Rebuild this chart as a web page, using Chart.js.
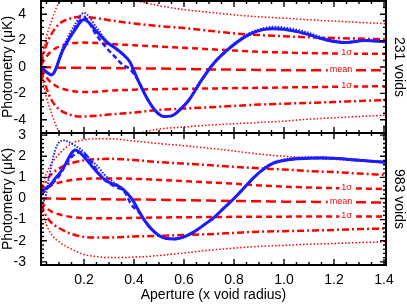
<!DOCTYPE html>
<html lang="en">
<head>
  <meta charset="UTF-8" />
  <title>Void photometry</title>
  <script src="https://cdn.jsdelivr.net/npm/chart.js@4.4.1/dist/chart.umd.min.js"></script>
  <style>
    body { margin: 0; background: #fff; }
    .wrap { position: relative; width: 407px; height: 304px; }
    .wrap canvas { position: absolute; left: 0; }
    #topChart { top: 0; }
    #botChart { top: 126px; }
  </style>
</head>
<body>
<div class="wrap">
  <canvas id="topChart" width="407" height="134"></canvas>
  <canvas id="botChart" width="407" height="178"></canvas>
</div>
<script>
// ---- axes / tick labels ----
const xMin = 0.028, xMax = 1.408;
const xTickVals = [0.2, 0.4, 0.6, 0.8, 1.0, 1.2, 1.4];
const topYTicks = [-4, -2, 0, 2, 4];
const botYTicks = [-3, -2, -1, 0, 1, 2, 3];

// ---- random-sky bands (shared aperture grid) ----
const bandX = [0.028, 0.05, 0.07, 0.1, 0.15, 0.2, 0.25, 0.3, 0.4, 0.5, 0.6, 0.7, 0.8, 0.9, 1.0, 1.1, 1.2, 1.3, 1.408];

// 231 voids
const topMean = [0, -0.02, -0.03, -0.05, -0.05, -0.06, -0.07, -0.08, -0.1, -0.12, -0.15, -0.18, -0.2, -0.22, -0.24, -0.25, -0.25, -0.25, -0.25];
const topUp1 = [0.15, 0.8, 1.2, 1.55, 1.8, 1.85, 1.82, 1.75, 1.65, 1.55, 1.45, 1.35, 1.25, 1.15, 1.1, 1.05, 1.03, 1.0, 1.0];
const topLo1 = [-0.15, -0.8, -1.2, -1.55, -1.8, -1.9, -1.88, -1.8, -1.72, -1.68, -1.65, -1.63, -1.6, -1.58, -1.55, -1.53, -1.5, -1.48, -1.45];
const topUp2 = [0.3, 1.7, 2.5, 3.25, 3.7, 3.8, 3.7, 3.55, 3.3, 3.1, 2.95, 2.75, 2.55, 2.42, 2.33, 2.25, 2.2, 2.15, 2.1];
const topLo2 = [-0.3, -1.6, -2.5, -3.2, -3.65, -3.75, -3.7, -3.6, -3.45, -3.25, -3.15, -3.05, -2.95, -2.85, -2.78, -2.72, -2.65, -2.58, -2.5];
const topUp3 = [0.3, 2.3, 3.5, 4.9, 5.7, 5.9, 5.8, 5.5, 5.05, 4.65, 4.35, 4.15, 3.95, 3.8, 3.7, 3.58, 3.48, 3.38, 3.28];
const topLo3 = [-0.3, -2.3, -3.5, -4.9, -5.8, -6.0, -5.8, -5.5, -5.1, -4.7, -4.55, -4.4, -4.3, -4.2, -4.1, -3.95, -3.85, -3.75, -3.65];

// 983 voids
const botMean = [0, 0, 0, -0.01, -0.02, -0.02, -0.03, -0.04, -0.05, -0.06, -0.08, -0.1, -0.12, -0.13, -0.15, -0.16, -0.17, -0.18, -0.2];
const botUp1 = [0.15, 0.45, 0.62, 0.75, 0.87, 0.93, 0.95, 0.95, 0.93, 0.88, 0.82, 0.76, 0.7, 0.62, 0.56, 0.52, 0.49, 0.47, 0.45];
const botLo1 = [-0.15, -0.45, -0.62, -0.75, -0.88, -0.93, -0.94, -0.94, -0.92, -0.9, -0.89, -0.88, -0.87, -0.86, -0.86, -0.85, -0.85, -0.85, -0.85];
const botUp2 = [0.3, 0.85, 1.15, 1.42, 1.68, 1.8, 1.86, 1.88, 1.82, 1.72, 1.65, 1.58, 1.5, 1.43, 1.37, 1.3, 1.25, 1.18, 1.12];
const botLo2 = [-0.3, -0.85, -1.15, -1.4, -1.68, -1.82, -1.85, -1.85, -1.8, -1.77, -1.73, -1.69, -1.63, -1.57, -1.55, -1.52, -1.49, -1.45, -1.42];
const botUp3 = [0.45, 1.2, 1.65, 2.1, 2.6, 2.78, 2.83, 2.83, 2.72, 2.6, 2.5, 2.38, 2.25, 2.1, 2.0, 1.92, 1.85, 1.78, 1.72];
const botLo3 = [-0.45, -1.25, -1.7, -2.05, -2.4, -2.65, -2.75, -2.8, -2.78, -2.7, -2.58, -2.45, -2.35, -2.27, -2.22, -2.17, -2.13, -2.09, -2.05];

// ---- measured photometry ----
const topObsX = [0.028, 0.045, 0.07, 0.116, 0.163, 0.2, 0.25, 0.29, 0.32, 0.356, 0.383, 0.416, 0.456, 0.49, 0.52, 0.55, 0.58, 0.62, 0.67, 0.72, 0.79, 0.86, 0.92, 0.96, 1.0, 1.08, 1.17, 1.25, 1.32, 1.408];
const topSolid = [0.0, -0.3, -0.6, 1.3, 2.8, 3.6, 2.7, 1.9, 1.5, 0.95, 0.4, -1.0, -2.5, -3.4, -3.75, -3.7, -3.3, -2.5, -1.0, 0.3, 1.55, 2.45, 2.85, 2.9, 2.85, 2.55, 2.05, 1.85, 2.0, 1.92];
const topDash = [0.0, -0.3, -0.6, 1.3, 2.9, 3.75, 2.4, 1.45, 0.85, 0.15, -0.15, -1.0, -2.5, -3.4, -3.75, -3.7, -3.3, -2.5, -1.0, 0.3, 1.55, 2.45, 2.85, 2.9, 2.85, 2.55, 2.05, 1.85, 2.0, 1.92];
const topDot = [0.0, -0.3, -0.55, 1.5, 3.2, 4.1, 3.0, 2.0, 1.55, 1.0, 0.4, -1.0, -2.5, -3.4, -3.75, -3.7, -3.3, -2.5, -1.0, 0.3, 1.6, 2.55, 2.95, 3.05, 3.0, 2.7, 2.15, 1.9, 2.0, 1.95];

const botObsX = [0.028, 0.044, 0.064, 0.085, 0.1, 0.12, 0.15, 0.165, 0.19, 0.23, 0.26, 0.28, 0.31, 0.336, 0.36, 0.39, 0.42, 0.44, 0.47, 0.5, 0.53, 0.56, 0.6, 0.64, 0.68, 0.72, 0.76, 0.8, 0.84, 0.88, 0.92, 0.96, 1.0, 1.05, 1.1, 1.15, 1.2, 1.25, 1.3, 1.35, 1.408];
const botSolid = [0.2, 0.45, 0.62, 0.95, 1.15, 1.5, 2.15, 2.3, 2.1, 1.55, 1.15, 0.93, 0.7, 0.6, 0.4, 0.0, -0.6, -1.0, -1.45, -1.75, -1.9, -1.92, -1.82, -1.58, -1.25, -0.9, -0.45, 0.0, 0.5, 1.0, 1.4, 1.68, 1.8, 1.88, 1.91, 1.92, 1.9, 1.86, 1.81, 1.76, 1.72];
const botDash = [0.15, 0.4, 0.6, 0.85, 1.05, 1.45, 1.95, 2.1, 2.2, 1.7, 1.2, 0.9, 0.65, 0.5, 0.35, -0.3, -0.65, -1.0, -1.45, -1.75, -1.9, -1.92, -1.82, -1.58, -1.25, -0.9, -0.45, 0.0, 0.5, 1.0, 1.4, 1.68, 1.8, 1.88, 1.91, 1.92, 1.9, 1.86, 1.81, 1.76, 1.72];
const botDot = [-0.2, 0.0, 1.25, 2.3, 2.65, 2.75, 2.6, 2.5, 2.3, 1.8, 1.45, 1.15, 0.85, 0.62, 0.4, 0.0, -0.6, -1.0, -1.45, -1.75, -1.9, -1.92, -1.82, -1.58, -1.25, -0.9, -0.45, 0.0, 0.5, 1.0, 1.45, 1.72, 1.85, 1.93, 1.95, 1.95, 1.92, 1.88, 1.83, 1.78, 1.74];

// label placement along the bands
const tagX = { sigma: 1.25, mean: 1.228 };

Chart.defaults.font.family = '"Liberation Sans", Arial, Helvetica, sans-serif';
Chart.defaults.font.size = 14;
Chart.defaults.color = '#000';

const RED = '#ff0000', BLUE = '#1c1cff';

function line(xs, ys, color, width, dash, extra) {
  return Object.assign({
    data: xs.map((x, i) => ({ x: x, y: ys[i] })),
    borderColor: color,
    borderWidth: width,
    borderDash: dash,
    showLine: true,
    fill: false,
    pointRadius: 0,
    cubicInterpolationMode: 'monotone'
  }, extra || {});
}

// inward ticks on all four sides plus the box
const framePlugin = {
  id: 'frame',
  afterDatasetsDraw(chart, args, opts) {
    const { ctx, chartArea: a } = chart;
    const xs = chart.scales.x, ys = chart.scales.y;
    ctx.save();
    ctx.strokeStyle = '#000';
    ctx.lineWidth = 1.4;
    ctx.beginPath();
    for (let k = 1; k * 0.05 <= xs.max + 1e-9; k++) {
      const v = k * 0.05;
      if (v < xs.min) continue;
      const len = k % 4 === 0 ? 6 : 3;
      const px = xs.getPixelForValue(v);
      ctx.moveTo(px, a.bottom); ctx.lineTo(px, a.bottom - len);
      ctx.moveTo(px, a.top); ctx.lineTo(px, a.top + len);
    }
    const step = opts.yMinor, major = opts.yMajor;
    for (let k = Math.ceil(ys.min / step - 1e-9); k * step <= ys.max + 1e-9; k++) {
      const v = k * step;
      const r = v / major;
      const len = Math.abs(r - Math.round(r)) < 1e-6 ? 6 : 3;
      const py = ys.getPixelForValue(v);
      ctx.moveTo(a.left, py); ctx.lineTo(a.left + len, py);
      ctx.moveTo(a.right, py); ctx.lineTo(a.right - len, py);
    }
    ctx.stroke();
    ctx.lineWidth = 2;
    ctx.strokeRect(a.left, a.top, a.right - a.left, a.bottom - a.top);
    ctx.restore();
  }
};

// "1σ" / "mean" written into the band lines
const tagPlugin = {
  id: 'bandTags',
  afterDatasetsDraw(chart) {
    const ctx = chart.ctx;
    ctx.save();
    ctx.font = '9px "Liberation Sans", Arial, sans-serif';
    ctx.textAlign = 'center';
    ctx.textBaseline = 'alphabetic';
    chart.data.datasets.forEach((ds, i) => {
      if (!ds.tag) return;
      const pts = chart.getDatasetMeta(i).data;
      const px = chart.scales.x.getPixelForValue(ds.tagAt);
      let py = pts[pts.length - 1].y;
      for (let k = 0; k < pts.length - 1; k++) {
        if (pts[k].x <= px && px <= pts[k + 1].x) {
          const t = (px - pts[k].x) / (pts[k + 1].x - pts[k].x);
          py = pts[k].y + t * (pts[k + 1].y - pts[k].y);
          break;
        }
      }
      const w = ctx.measureText(ds.tag).width;
      ctx.fillStyle = '#fff';
      ctx.fillRect(px - w / 2 - 2, py - 3, w + 4, 6);
      ctx.fillStyle = ds.borderColor;
      ctx.fillText(ds.tag, px, py + 1.5);
    });
    ctx.restore();
  }
};

function options(yMin, yMax, yTickVals, sideTitle, withX, minor, major, pad) {
  return {
    responsive: false,
    animation: false,
    devicePixelRatio: 1,
    layout: { padding: pad },
    plugins: {
      legend: { display: false },
      tooltip: { enabled: false },
      frame: { yMinor: minor, yMajor: major }
    },
    scales: {
      x: {
        type: 'linear', min: xMin, max: xMax, display: withX,
        grid: { display: false }, border: { display: false },
        afterBuildTicks: s => { s.ticks = xTickVals.map(v => ({ value: v })); },
        ticks: { padding: -1, callback: v => Number(v).toFixed(1) },
        title: { display: true, text: 'Aperture (x void radius)', padding: { top: 0, bottom: 0 } },
        afterFit: s => { s.height = withX ? 39 : 0; s.paddingLeft = 0; s.paddingRight = 0; }
      },
      y: {
        type: 'linear', position: 'left', min: yMin, max: yMax,
        grid: { display: false }, border: { display: false },
        afterBuildTicks: s => { s.ticks = yTickVals.map(v => ({ value: v })); },
        ticks: { padding: 7 },
        title: { display: true, text: 'Photometry (\u03bcK)', padding: { top: 0, bottom: 0 } },
        afterFit: s => { s.width = 41; s.paddingTop = 0; s.paddingBottom = 0; }
      },
      y2: {
        type: 'linear', position: 'right', min: yMin, max: yMax,
        grid: { display: false }, border: { display: false },
        ticks: { display: false },
        title: { display: true, text: sideTitle, padding: { top: 0, bottom: 0 } },
        afterFit: s => { s.width = 21; s.paddingTop = 0; s.paddingBottom = 0; }
      }
    }
  };
}

function datasets(obsX, solid, dash, dot, mean, up1, lo1, up2, lo2, up3, lo3) {
  return [
    line(obsX, solid, BLUE, 3, []),
    line(obsX, dash, BLUE, 2.5, [5, 3]),
    line(obsX, dot, BLUE, 2, [1.5, 1.5]),
    line(bandX, mean, RED, 2.5, [10, 5], { tag: 'mean', tagAt: tagX.mean }),
    line(bandX, up1, RED, 2.5, [6, 4], { tag: '1\u03c3', tagAt: tagX.sigma }),
    line(bandX, lo1, RED, 2.5, [6, 4], { tag: '1\u03c3', tagAt: tagX.sigma }),
    line(bandX, up2, RED, 2.5, [7, 3, 2, 3]),
    line(bandX, lo2, RED, 2.5, [7, 3, 2, 3]),
    line(bandX, up3, RED, 1.5, [1.5, 2]),
    line(bandX, lo3, RED, 1.5, [1.5, 2])
  ];
}

new Chart(document.getElementById('topChart'), {
  type: 'scatter',
  data: { datasets: datasets(topObsX, topSolid, topDash, topDot, topMean, topUp1, topLo1, topUp2, topLo2, topUp3, topLo3) },
  options: options(-5, 5, topYTicks, '231 voids', false, 0.5, 2, { top: 1, bottom: 1, left: 0, right: 0 }),
  plugins: [tagPlugin, framePlugin]
});

new Chart(document.getElementById('botChart'), {
  type: 'scatter',
  data: { datasets: datasets(botObsX, botSolid, botDash, botDot, botMean, botUp1, botLo1, botUp2, botLo2, botUp3, botLo3) },
  options: options(-3.15, 3.1, botYTicks, '983 voids', true, 0.2, 1, { top: 7, bottom: 0, left: 0, right: 0 }),
  plugins: [tagPlugin, framePlugin]
});
</script>
</body>
</html>
